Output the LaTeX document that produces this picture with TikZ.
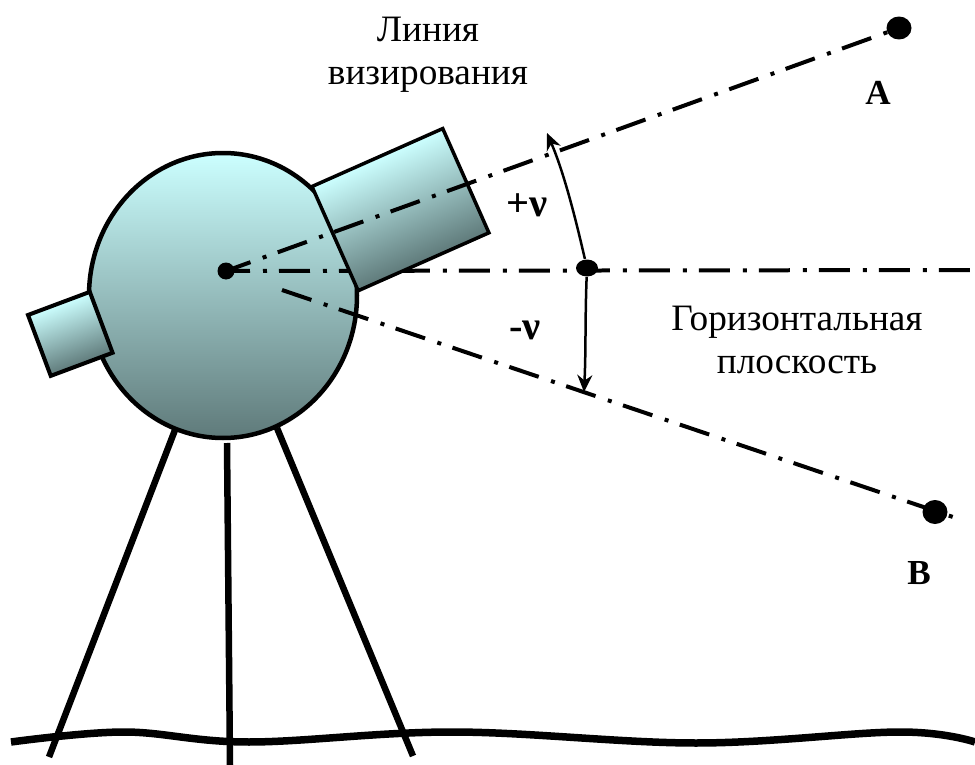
\documentclass[tikz,border=0pt]{standalone}
\usepackage{fontspec}
\setmainfont{Liberation Serif}
\usetikzlibrary{arrows.meta,shapes.geometric}
\definecolor{lightcyan}{HTML}{CCFFFF}
\definecolor{midcyan}{HTML}{A6D0D0}
\definecolor{darkcyan}{HTML}{5F7A7A}
\tikzset{
  sightline/.style = {line width = 0.04cm, dash pattern = on 0.31cm off 0.13cm on 0.04cm off 0.12cm},
  blackdot/.style = {shape = ellipse, fill = black, inner sep = 0pt},
  leg/.style = {line width = 0.065cm},
  glass/.style = {top color = lightcyan, middle color = midcyan, bottom color = darkcyan},
  anglearrow/.style = {-{Stealth[length = 0.17cm, width = 0.15cm]}, line width = 0.025cm},
  caption/.style = {font = \fontsize{10.6}{12.2}\selectfont, align = center},
  letter/.style = {font = \fontsize{10}{12}\selectfont\bfseries},
  anglelabel/.style = {font = \fontsize{11.5}{12}\selectfont\bfseries}
}
\begin{document}
\begin{tikzpicture}[draw = black]
\useasboundingbox (0,0) rectangle (9.75,-7.65);
\node[blackdot, minimum width = 0.25cm, minimum height = 0.23cm] (pta) at (8.99,-0.28) {};
\node[blackdot, minimum width = 0.25cm, minimum height = 0.24cm] (ptb) at (9.35,-5.12) {};
\coordinate (centre) at (2.26,-2.71);
\coordinate (lowstart) at (2.82,-2.9);
\coordinate (lowend) at (9.53,-5.17);
\coordinate (horend) at (9.75,-2.7);
\coordinate (legatop) at (1.75,-4.3);
\coordinate (legabot) at (0.49,-7.57);
\coordinate (legbtop) at (2.27,-4.43);
\coordinate (legbbot) at (2.3,-7.65);
\coordinate (legctop) at (2.77,-4.28);
\coordinate (legcbot) at (4.13,-7.56);
\coordinate (tipup) at (5.47,-1.33);
\coordinate (tipdown) at (5.84,-3.92);
% legs and ground
\draw[leg] (legatop) -- (legabot);
\draw[leg] (legbtop) -- (legbbot);
\draw[leg] (legctop) -- (legcbot);
\draw[line width = 0.075cm] plot[smooth, tension = 0.6] coordinates {(0.11,-7.42) (1.24,-7.32) (2.49,-7.42) (4.54,-7.32) (6.96,-7.43) (8.99,-7.32) (9.75,-7.42)};
% body
\shadedraw[glass, line width = 0.045cm] (2.23,-2.955) ellipse (1.34cm and 1.425cm);
\draw[sightline, dash phase = 0.07cm] (centre) -- (horend);
% tube and eyepiece
\begin{scope}[transform canvas = {shift = {(3.12,-1.865)}, rotate = 23.9}]
\shadedraw[glass, line width = 0.035cm] (0,0) rectangle (1.43,-1.14);
\end{scope}
\begin{scope}[transform canvas = {shift = {(0.28,-3.15)}, rotate = 20.5}]
\shadedraw[glass, line width = 0.04cm] (0,0) rectangle (0.66,-0.65);
\end{scope}
% lines of sight
\draw[sightline, dash phase = 0.05cm] (centre) -- (pta.center);
\draw[sightline] (lowstart) -- (lowend);
\node[blackdot, minimum width = 0.22cm, minimum height = 0.17cm] (mid) at (5.87,-2.68) {};
\node[blackdot, minimum width = 0.17cm, minimum height = 0.17cm] (centrecap) at (centre) {};
% angle arrows
\draw[anglearrow] (mid) .. controls (5.77,-2.25) and (5.65,-1.75) .. (tipup);
\draw[anglearrow] (mid) .. controls (5.85,-3.2) and (5.86,-3.5) .. (tipdown);
% labels
\node[caption] (sight) at (4.28,-0.55) {Линия\\визирования};
\node[caption] (horiz) at (7.97,-3.4) {Горизонтальная\\плоскость};
\node[letter] (lbla) at (8.78,-0.93) {A};
\node[letter] (lblb) at (9.19,-5.73) {B};
\node[anglelabel] (lblplus) at (5.27,-2.05) {+ν};
\node[anglelabel] (lblminus) at (5.25,-3.3) {-ν};
\end{tikzpicture}
\end{document}
